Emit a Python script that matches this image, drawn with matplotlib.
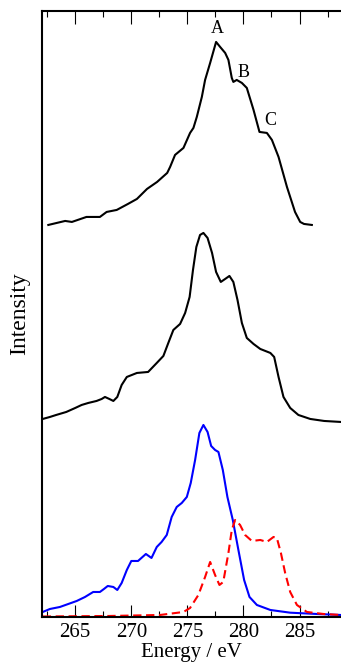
import matplotlib
matplotlib.use("Agg")
import matplotlib.pyplot as plt
from matplotlib.ticker import MultipleLocator, NullLocator

plt.rcParams["font.family"] = ["Liberation Serif", "DejaVu Serif"]

# top spectrum (noisy, with features A, B, C)
top_e = [262.6, 264.1, 264.7, 266.0, 267.2, 267.8, 268.7, 269.7, 270.5, 271.4,
         272.3, 273.2, 273.46, 273.9, 274.65, 275.24, 275.54, 275.84, 276.29, 276.58,
         277.03, 277.56, 277.92, 278.37, 278.66, 278.96, 279.1, 279.4, 279.86, 280.3,
         280.9, 281.43, 282.09, 282.54, 283.13, 283.88, 284.6, 285.06, 285.4, 286.1]
top_i = [392, 396, 395, 400, 400, 405, 407, 413, 418, 428,
         435, 444, 450, 462, 469, 484, 489, 500, 520, 537,
         554, 575, 570, 564, 557, 539, 535, 537, 534, 529,
         507, 485, 484, 477, 460, 430, 405, 395, 393, 392]

# middle spectrum
mid_e = [262.1, 262.74, 263.3, 264.2, 265.0, 265.57, 266.16, 266.9, 267.36, 267.65,
         268.04, 268.4, 268.75, 269.14, 269.6, 270.5, 271.5, 272.27, 272.86, 273.3,
         273.75, 274.35, 274.8, 275.2, 275.5, 275.8, 276.13, 276.43, 276.8, 277.2,
         277.56, 277.98, 278.37, 278.75, 279.1, 279.47, 279.86, 280.3, 280.9, 281.5,
         282.4, 282.74, 283.13, 283.57, 284.17, 284.9, 285.96, 287.2, 288.7]
mid_i = [198, 200, 202, 205, 209, 212, 214, 216, 218, 220,
         218, 216, 220, 232, 240, 244, 245, 254, 261, 274,
         287, 293, 304, 320, 347, 370, 382, 384, 379, 364,
         345, 335, 338, 341, 335, 317, 294, 279, 273, 268,
         264, 260, 240, 220, 209, 202, 198, 196, 195]

# bottom: blue calculated spectrum
blue_e = [262.1, 262.74, 263.63, 264.38, 265.13, 265.87, 266.6, 267.2, 267.56, 267.9,
          268.4, 268.75, 269.14, 269.6, 270.0, 270.6, 271.3, 271.8, 272.27, 272.7,
          273.16, 273.6, 274.05, 274.5, 274.95, 275.3, 275.69, 276.07, 276.43, 276.8,
          277.12, 277.47, 277.77, 278.16, 278.57, 279.05, 279.55, 280.06, 280.54, 281.2,
          282.4, 284.17, 286.55, 288.7]
blue_i = [5, 8, 10, 13, 16, 20, 25, 25, 28, 31,
          30, 27, 34, 47, 56, 56, 63, 59, 70, 75,
          82, 100, 110, 114, 120, 134, 157, 184, 192, 185,
          171, 167, 165, 147, 120, 97, 67, 37, 20, 12,
          7, 4.3, 3, 2]

# bottom: red dashed spectrum
red_e = [262.1, 268.0, 272.56, 274.65, 275.24, 275.98, 276.58, 277.03, 277.47, 277.86,
         278.2, 278.66, 278.96, 279.26, 279.7, 280.15, 280.75, 281.5, 282.09, 282.68,
         282.98, 283.34, 283.72, 284.17, 284.77, 285.66, 287.14, 288.7]
red_i = [0.5, 1, 2, 5, 9, 22, 40, 55, 42, 32,
         35, 64, 87, 97, 92, 82, 76, 77, 75, 80,
         79, 64, 44, 25, 12, 5, 3, 2]

peak_labels = ["A", "B", "C"]
peak_e = [277.7, 280.0, 282.4]
peak_i = [588, 544, 496]

fig = plt.figure(figsize=(3.41, 6.66), dpi=100)
ax = fig.add_axes([0.122, 0.0736, 0.878, 0.91])

ax.plot(top_e, top_i, color="black", lw=1.5)
ax.plot(mid_e, mid_i, color="black", lw=1.5)
ax.plot(blue_e, blue_i, color="#0000ff", lw=1.5)
ax.plot(red_e, red_i, color="#ff0000", lw=1.5, linestyle=(0, (4, 2.2)))

for lab, e, i in zip(peak_labels, peak_e, peak_i):
    ax.text(e, i, lab, ha="center", va="center", fontsize=13)

ax.set_xlim(262, 288.7)
ax.set_ylim(0, 606)

ax.xaxis.set_major_locator(MultipleLocator(5))
ax.xaxis.set_minor_locator(MultipleLocator(2.5))
ax.yaxis.set_major_locator(NullLocator())
ax.tick_params(axis="x", which="both", direction="in", top=True, bottom=True,
               width=0.8, labelsize=15, pad=4)
ax.tick_params(axis="x", which="major", length=9)
ax.tick_params(axis="x", which="minor", length=4.5)

ax.spines["right"].set_visible(False)
for s in ["left", "top", "bottom"]:
    ax.spines[s].set_linewidth(1.5)

ax.set_xlabel("Energy / eV", fontsize=15, labelpad=1)
ax.set_ylabel("Intensity", fontsize=17, labelpad=8)

fig.savefig("out.png", dpi=100)
